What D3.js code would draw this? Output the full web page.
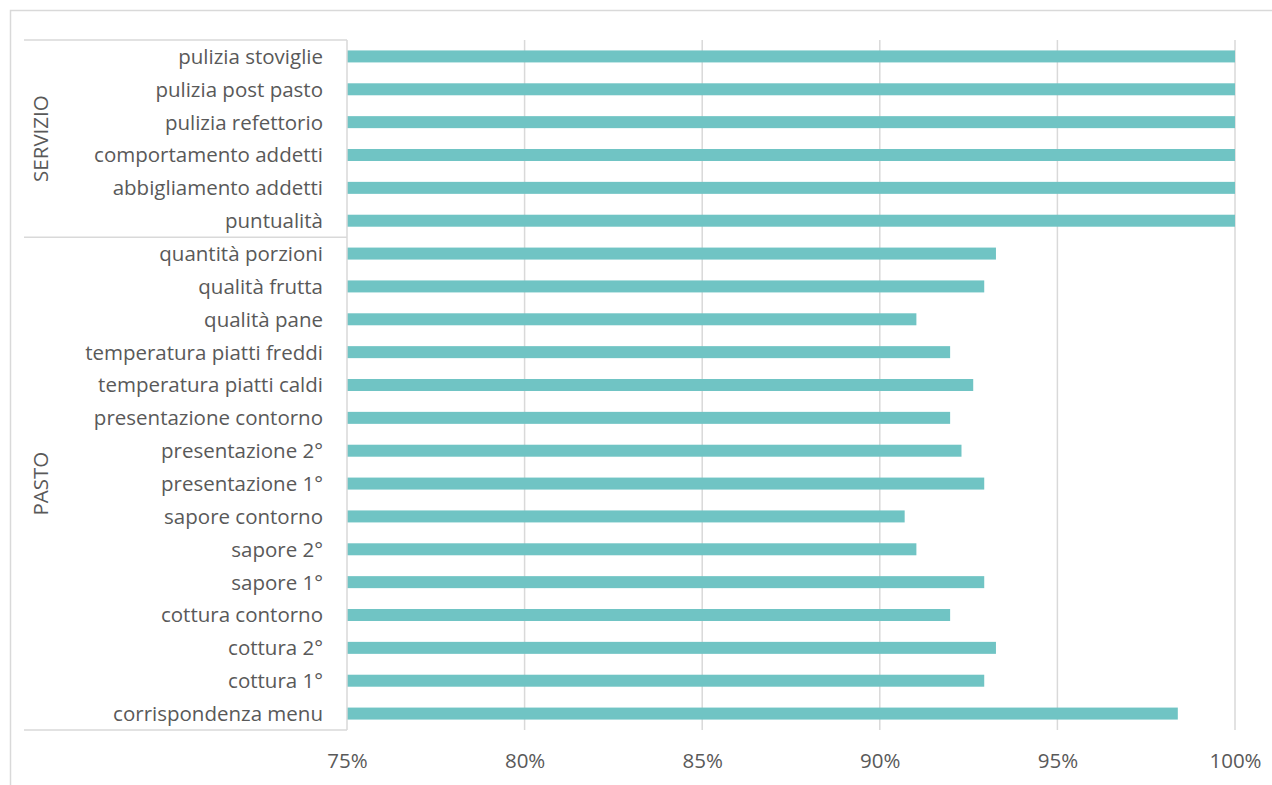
<!DOCTYPE html>
<html>
<head>
<meta charset="utf-8">
<script src="https://cdn.jsdelivr.net/npm/d3@7"></script>
<style>
  body { margin: 0; background: #fff; }
  text { font-family: "Open Sans", sans-serif; fill: #595959; }
</style>
</head>
<body>
<svg id="chart" width="1272" height="785"></svg>
<script>
// categories, top to bottom
const categories = [
  "pulizia stoviglie", "pulizia post pasto", "pulizia refettorio",
  "comportamento addetti", "abbigliamento addetti", "puntualità",
  "quantità porzioni", "qualità frutta", "qualità pane",
  "temperatura piatti freddi", "temperatura piatti caldi", "presentazione contorno",
  "presentazione 2°", "presentazione 1°", "sapore contorno", "sapore 2°",
  "sapore 1°", "cottura contorno", "cottura 2°", "cottura 1°", "corrispondenza menu"
];
const values = [
  1.00, 1.00, 1.00, 1.00, 1.00, 1.00,
  0.9327, 0.9294, 0.9103, 0.9198, 0.9263, 0.9198,
  0.9230, 0.9294, 0.9070, 0.9103, 0.9294, 0.9198, 0.9327, 0.9294, 0.9839
];
// group label, number of rows
const groups = [["SERVIZIO", 6], ["PASTO", 15]];
const xTicks = [0.75, 0.80, 0.85, 0.90, 0.95, 1.00];

const svg = d3.select("#chart");
const LEFT = 347, RIGHT = 1235, TOP = 40, BOT = 730;
const OUTER_LEFT = 24;
const GRID = "#d9d9d9";
const FONT = "20.5px";

// outer chart border
svg.append("rect")
	.attr("x", 10.5).attr("y", 10.5)
	.attr("width", 1300).attr("height", 800)
	.attr("fill", "none").attr("stroke", GRID).attr("stroke-width", 1.5);

var x = d3.scaleLinear().domain([0.75, 1.0]).range([LEFT, RIGHT]);
var y = d3.scaleBand().domain(categories).range([TOP, BOT]).paddingInner(0.635).paddingOuter(0.3175);
var rowH = (BOT - TOP) / categories.length;

// gridlines
svg.append("g").selectAll("line")
	.data(xTicks.slice(1))
  .enter().append("line")
	.attr("x1", d => x(d)).attr("x2", d => x(d))
	.attr("y1", TOP).attr("y2", BOT)
	.attr("stroke", GRID).attr("stroke-width", 1.5);

// x axis labels
var xAxis = d3.axisBottom(x).tickValues(xTicks).tickFormat(d3.format(".0%")).tickSize(0).tickPadding(0);
var gx = svg.append("g")
	.attr("transform", "translate(0," + BOT + ")")
	.call(xAxis);
gx.select(".domain").remove();
gx.selectAll("text")
	.attr("y", 38).attr("dy", 0)
	.style("font-size", FONT)
	.style("font-family", "'Open Sans', sans-serif")
	.attr("fill", "#595959");

// bars
svg.append("g").selectAll("rect")
	.data(categories)
  .enter().append("rect")
	.attr("x", x(0.75))
	.attr("y", d => y(d))
	.attr("width", (d, i) => x(values[i]) - x(0.75))
	.attr("height", y.bandwidth())
	.attr("fill", "#70c4c4");

// category axis
var yAxis = d3.axisLeft(y).tickSize(0).tickPadding(24);
var gy = svg.append("g")
	.attr("transform", "translate(" + LEFT + ",0)")
	.call(yAxis);
gy.select(".domain").remove();
gy.selectAll("text")
	.style("font-size", FONT)
	.style("font-family", "'Open Sans', sans-serif")
	.attr("fill", "#595959")
	.attr("dy", "0.36em");

svg.append("line")
	.attr("x1", LEFT).attr("x2", LEFT).attr("y1", TOP).attr("y2", BOT)
	.attr("stroke", GRID).attr("stroke-width", 1.5);

// group separators and labels
var start = 0;
var bounds = [TOP];
groups.forEach(function(g) {
	var y0 = TOP + start * rowH,
	    y1 = TOP + (start + g[1]) * rowH;
	bounds.push(y1);
	svg.append("text")
		.attr("transform", "translate(41," + ((y0 + y1) / 2) + ") rotate(-90)")
		.attr("text-anchor", "middle")
		.attr("dy", "0.36em")
		.style("font-size", FONT)
		.text(g[0]);
	start += g[1];
});
svg.append("g").selectAll("line")
	.data(bounds)
  .enter().append("line")
	.attr("x1", OUTER_LEFT).attr("x2", LEFT)
	.attr("y1", d => d).attr("y2", d => d)
	.attr("stroke", GRID).attr("stroke-width", 1.5);
</script>
</body>
</html>
